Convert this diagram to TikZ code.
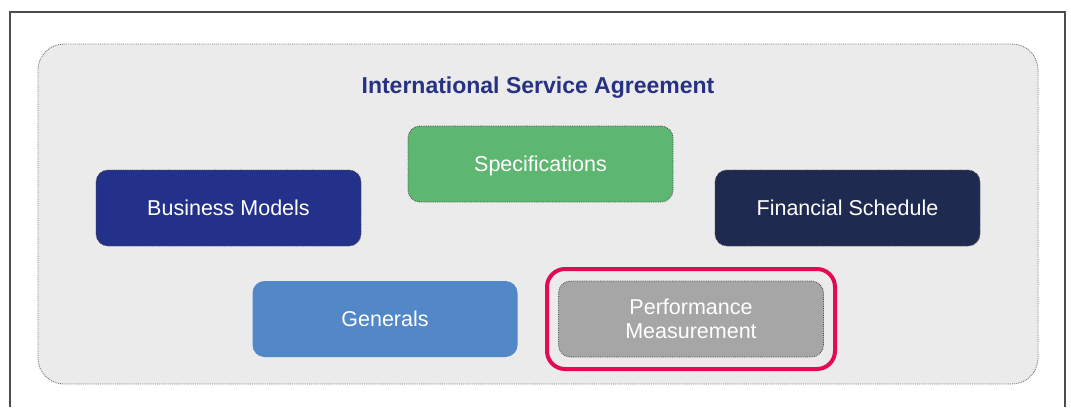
\documentclass[tikz,border=0pt]{standalone}
\usepackage{fontspec}
\setmainfont{Liberation Sans}
\usepackage{tikz}
\usetikzlibrary{positioning}

\definecolor{panelgray}{HTML}{EBEBEB}
\definecolor{titleblue}{HTML}{273284}
\definecolor{specgreen}{HTML}{5DB771}
\definecolor{busblue}{HTML}{24318A}
\definecolor{finnavy}{HTML}{1F2A50}
\definecolor{genblue}{HTML}{5288C7}
\definecolor{perfgray}{HTML}{A6A6A6}
\definecolor{markred}{HTML}{E20A52}

\tikzset{
  part/.style={rounded corners=12pt, minimum width=265pt, minimum height=76pt,
    text=white, font=\fontsize{21.5}{24}\selectfont, align=center, inner sep=0pt,
    text depth=0pt},
  dotborder/.style={draw=black!70, densely dotted, line width=0.8pt},
}

\begin{document}
\begin{tikzpicture}[x=1pt,y=-1pt]
\useasboundingbox (0,0) rectangle (1071,407);

\draw [line width=1.3pt, black!70] (10,407) -- (10,12) -- (1065,12) -- (1065,407);

\path [fill=panelgray, draw=black!55, densely dotted, line width=0.9pt, rounded corners=26pt] (38,44) rectangle (1038,384);

\node [text=titleblue, font=\fontsize{23}{26}\selectfont\bfseries, text depth=0pt] (title) at (538,85) {International Service Agreement};

\node [part, dotborder, fill=specgreen] (spec) at (540.5,164) {Specifications};
\node [part, dotborder, fill=busblue] (business) at (228.5,208) {Business Models};
\node [part, dotborder, fill=finnavy] (finance) at (847.5,208) {Financial Schedule};
\node [part, fill=genblue] (generals) at (385,319) {Generals};
\node [part, dotborder, fill=perfgray] (perf) at (691,319) {Performance\\Measurement};

% highlight
\node [draw=markred, line width=4pt, rounded corners=18pt, minimum width=288pt, minimum height=100pt] (mark) at (perf) {};
\end{tikzpicture}
\end{document}
